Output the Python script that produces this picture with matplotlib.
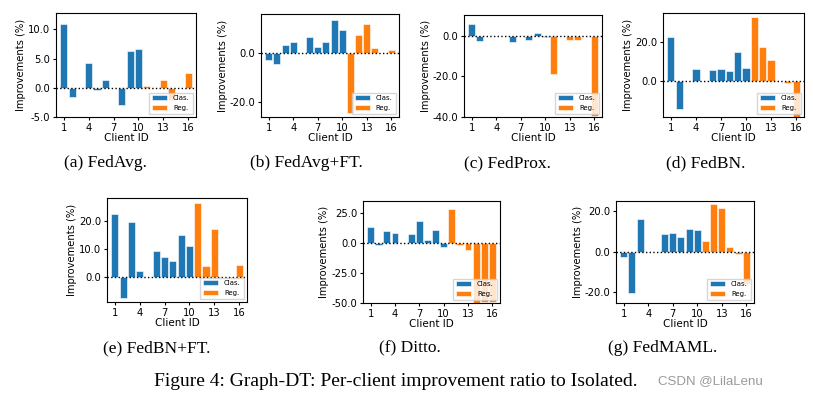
import matplotlib
matplotlib.use('Agg')
from matplotlib import pyplot as plt

plt.rcParams['axes.unicode_minus'] = False

clients = list(range(1, 17))
clas_ids = clients[:10]
reg_ids = clients[10:]

# Per-client improvement (%)
fedavg = [11.0, -1.5, 0.0, 4.2, -0.3, 1.4, 0.0, -3.0, 6.3, 6.6,
          0.3, 0.0, 1.3, -2.1, 0.0, 2.5]
fedavg_ft = [-2.7, -4.4, 3.4, 4.4, 0.0, 6.7, 2.4, 4.6, 13.6, 9.4,
             -24.5, 7.3, 12.0, 2.2, 0.0, 1.4]
fedprox = [5.5, -2.9, 0.0, 0.0, 0.0, -3.1, 0.0, -2.1, 1.3, -0.8,
           -19.0, 0.0, -2.0, -2.1, 0.0, -39.3]
fedbn = [22.2, -14.4, 0.0, 6.3, 0.0, 5.6, 6.1, 5.1, 14.6, 6.6,
         32.5, 17.3, 10.5, 0.0, -1.2, -19.0]
fedbn_ft = [22.4, -7.3, 19.8, 2.0, -0.1, 9.3, 7.1, 5.7, 14.9, 11.0,
            26.5, 3.9, 17.1, 0.0, -0.5, 4.3]
ditto = [13.3, -1.4, 9.7, 8.3, 0.0, 7.2, 18.1, 2.8, 11.1, -3.3,
         28.1, -1.4, -6.1, -52.0, -49.0, -49.0]
fedmaml = [-2.8, -20.4, 16.2, 0.0, 0.0, 8.7, 9.0, 7.2, 11.1, 10.8,
           5.4, 23.3, 21.6, 2.1, -1.1, -16.0]

panels = [
    # values, caption, y ticks, y limits, axes rect (px), caption center (px)
    (fedavg, '(a) FedAvg.', [-5, 0, 5, 10], (-5, 12.8), (56, 13, 140, 104), (105, 163)),
    (fedavg_ft, '(b) FedAvg+FT.', [-20, 0], (-26.1, 16.0), (261, 14, 138, 103), (306, 163)),
    (fedprox, '(c) FedProx.', [-40, -20, 0], (-40, 10.1), (464, 15, 138, 102), (507, 163)),
    (fedbn, '(d) FedBN.', [0, 20], (-18.5, 34.7), (663, 13, 141, 104), (706, 163)),
    (fedbn_ft, '(e) FedBN+FT.', [0, 10, 20], (-8.9, 28.2), (107, 198, 140, 104), (157, 348)),
    (ditto, '(f) Ditto.', [-50, -25, 0, 25], (-50, 35.0), (363, 201, 137, 102), (410, 348)),
    (fedmaml, '(g) FedMAML.', [-20, 0, 20], (-25.3, 25.0), (616, 201, 138, 102), (663, 348)),
]

W, H = 813, 396
fig = plt.figure(figsize=(W / 100, H / 100), dpi=100)

for vals, caption, yticks, ylim, rect, cap in panels:
    x0, y0, w, h = rect
    ax = fig.add_axes([x0 / W, 1 - (y0 + h) / H, w / W, h / H])
    ax.bar(clas_ids, vals[:10], width=0.85, color='#1f77b4',
           edgecolor='white', linewidth=0.4, label='Clas.')
    ax.bar(reg_ids, vals[10:], width=0.85, color='#ff7f0e',
           edgecolor='white', linewidth=0.4, label='Reg.')
    ax.axhline(0, color='black', linestyle=':', linewidth=1.0)
    ax.set_xlim(0.05, 16.95)
    ax.set_ylim(*ylim)
    ax.set_xticks([1, 4, 7, 10, 13, 16])
    ax.set_yticks(yticks)
    ax.set_yticklabels(['%.1f' % t for t in yticks])
    ax.tick_params(axis='both', labelsize=7.2, length=2.5, pad=1.5)
    ax.set_xlabel('Client ID', fontsize=7.5, labelpad=0.5)
    ax.set_ylabel('Improvements (%)', fontsize=7.2, labelpad=1.5)
    ax.legend(loc='lower right', fontsize=5, handlelength=2.2,
              borderaxespad=0.5, fancybox=False)
    fig.text(cap[0] / W, 1 - cap[1] / H, caption, ha='center', va='center',
             fontsize=12.5, family='Liberation Serif')

fig.text(396 / W, 1 - 382 / H,
         'Figure 4: Graph-DT: Per-client improvement ratio to Isolated.',
         ha='center', va='center', fontsize=14, family='Liberation Serif')
fig.text(710 / W, 1 - 381 / H, 'CSDN @LilaLenu', ha='center', va='center',
         fontsize=9.5, family='Liberation Sans', color='#9a9a9a')

fig.savefig('out.png', dpi=100)
